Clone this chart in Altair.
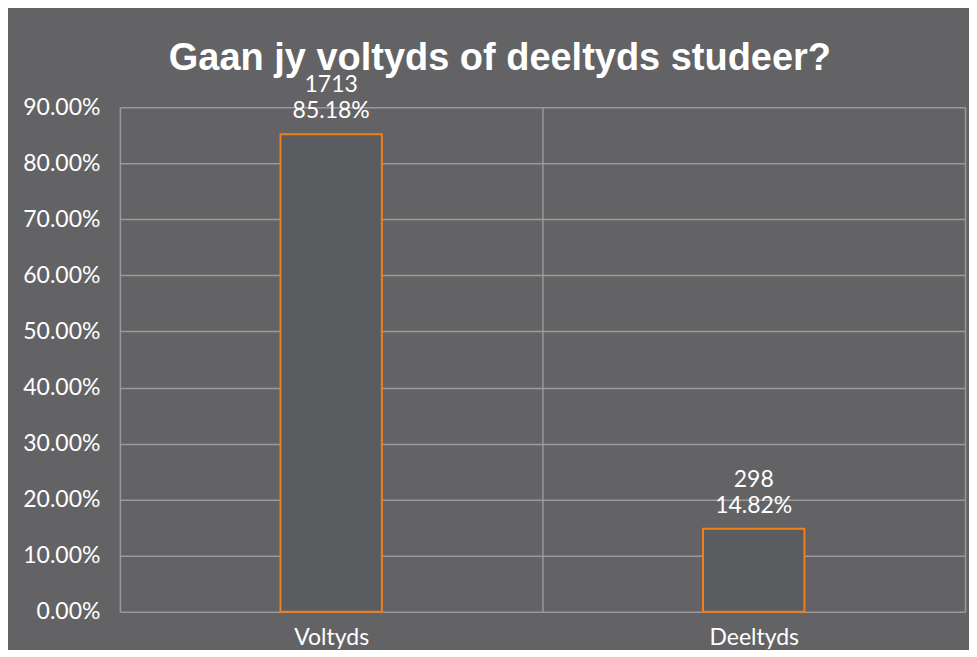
import altair as alt
import pandas as pd

categories = ["Voltyds", "Deeltyds"]
counts = [1713, 298]
shares = [0.8518, 0.1482]
y_ticks = [0, 0.1, 0.2, 0.3, 0.4, 0.5, 0.6, 0.7, 0.8, 0.9]

df = pd.DataFrame({"cat": categories, "count": counts, "share": shares})
df["count_label"] = [str(c) for c in counts]
df["pct_label"] = [f"{s*100:.2f}%" for s in shares]

BG = "#636365"
FONT = "Lato"
GRID = "#9a9a9c"

x = alt.X("cat:N", sort=categories, title=None,
          scale=alt.Scale(paddingInner=0, paddingOuter=0),
          axis=alt.Axis(labelAngle=0, labelFontSize=23, labelColor="white", labelFont=FONT,
                        labelPadding=15, ticks=False, domain=False, grid=True,
                        gridColor=GRID, gridWidth=1.5, tickBand="extent"))
y = alt.Y("share:Q", title=None,
          scale=alt.Scale(domain=[0, 0.9], nice=False),
          axis=alt.Axis(values=y_ticks, format=".2%", labelFontSize=23, labelColor="white",
                        labelFont=FONT, labelPadding=20, ticks=False, domain=False,
                        gridColor=GRID, gridWidth=1.5))

bars = alt.Chart(df).mark_bar(width=alt.RelativeBandSize(0.24), fill="#5b5c5f",
                              stroke="#f07f1c", strokeWidth=2).encode(x=x, y=y)
pct = alt.Chart(df).mark_text(baseline="alphabetic", dy=-16, fontSize=23, color="white",
                              font=FONT).encode(
    x=alt.X("cat:N", sort=categories), y="share:Q", text="pct_label:N")
cnt = alt.Chart(df).mark_text(baseline="alphabetic", dy=-42, fontSize=23, color="white",
                              font=FONT).encode(
    x=alt.X("cat:N", sort=categories), y="share:Q", text="count_label:N")

chart = (bars + pct + cnt).properties(
    width=846, height=505,
    background=BG,
    padding={"left": 14, "top": 32, "right": 4, "bottom": 0},
    title=alt.Title("Gaan jy voltyds of deeltyds studeer?", fontSize=38, font="Liberation Sans",
                    fontWeight="bold", color="white", anchor="middle", frame="bounds",
                    offset=-4, dx=6),
).configure_view(stroke=None).configure_axis(labelFontWeight="normal")

chart.save("out.html", embed_options={"renderer": "svg", "actions": False})
